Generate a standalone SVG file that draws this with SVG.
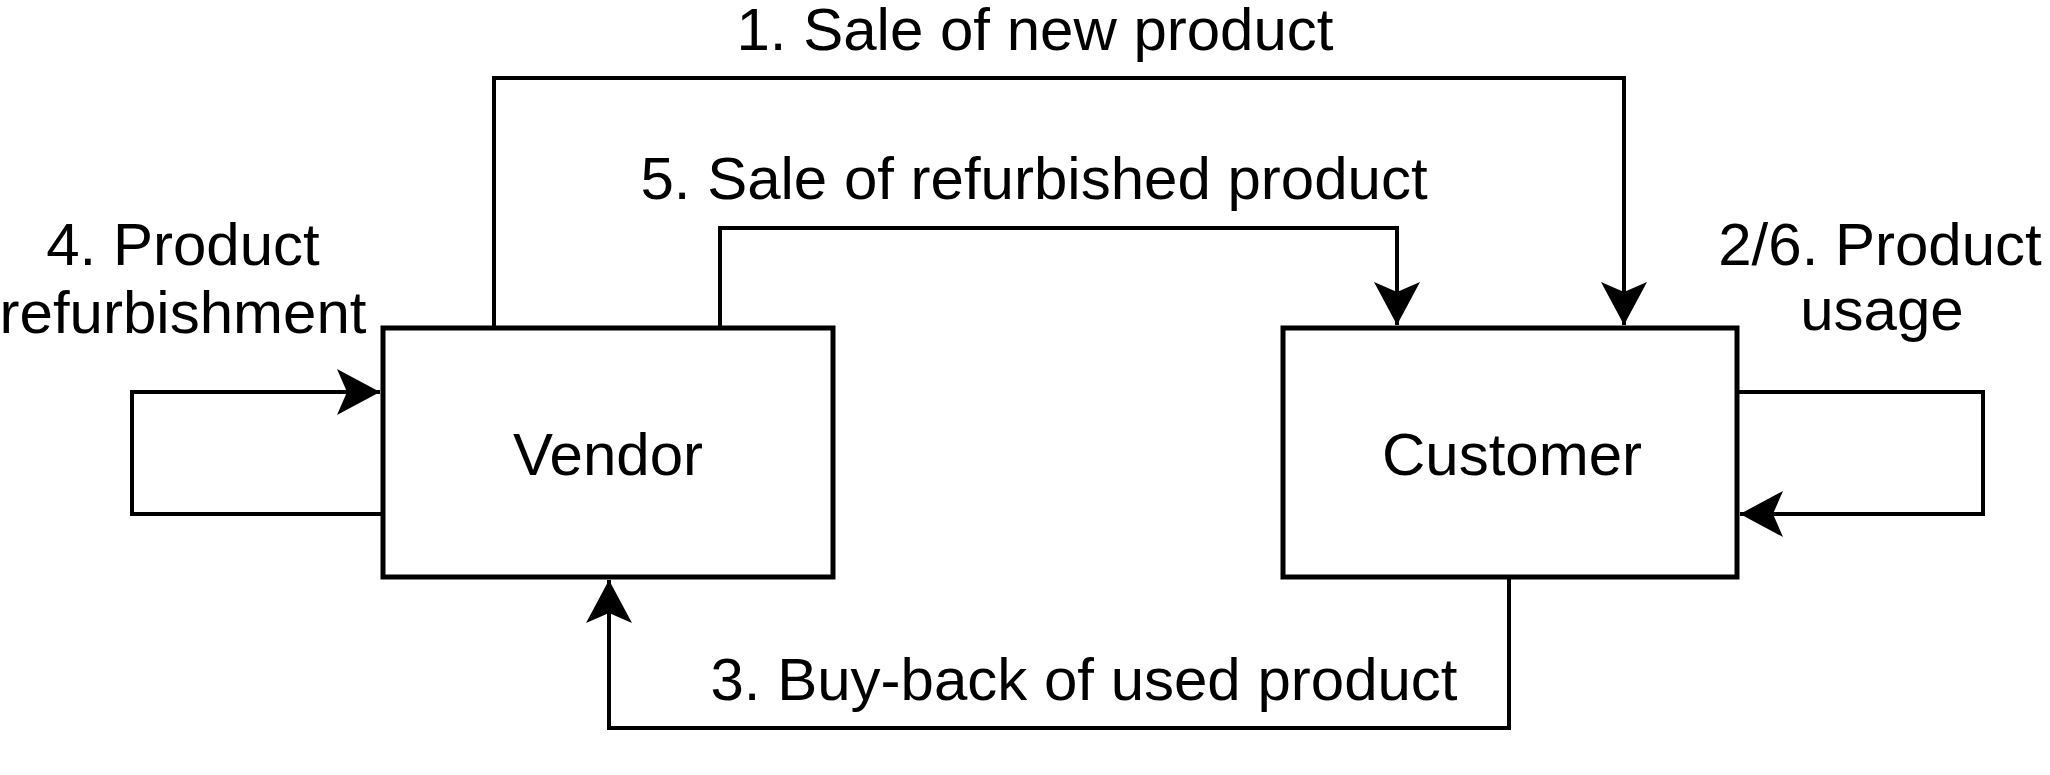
<svg xmlns="http://www.w3.org/2000/svg" width="2050" height="775" viewBox="0 0 2050 775">
<style>
.box{fill:#fff;stroke:#000;stroke-width:5}
.edge{fill:none;stroke:#000;stroke-width:4;stroke-linejoin:miter}
text{font-family:"Liberation Sans",Arial,Helvetica,sans-serif;font-size:60px;fill:#000;text-anchor:middle}
</style>
<defs>
<marker id="arr" markerUnits="userSpaceOnUse" viewBox="0 0 43 46" refX="43" refY="23" markerWidth="43" markerHeight="46" orient="auto">
<path d="M0,0 L43,23 L0,46 L10,23 Z" fill="#000"/>
</marker>
</defs>
<rect width="2050" height="775" fill="#fff"/>
<g id="connectors">
<path class="edge" d="M494,328 V78 H1624 V325" marker-end="url(#arr)"/>
<path class="edge" d="M720,328 V228 H1397 V325" marker-end="url(#arr)"/>
<path class="edge" d="M383,514 H132 V392 H380" marker-end="url(#arr)"/>
<path class="edge" d="M1737,392 H1983 V514 H1740" marker-end="url(#arr)"/>
<path class="edge" d="M1509,577 V728 H609 V580" marker-end="url(#arr)"/>
</g>
<g id="labels">
<text x="1035" y="50">1. Sale of new product</text>
<text x="1034" y="199">5. Sale of refurbished product</text>
<text x="183" y="265">4. Product</text>
<text x="183" y="333">refurbishment</text>
<text x="1880" y="265">2/6. Product</text>
<text x="1882" y="330">usage</text>
<text x="1084" y="700">3. Buy-back of used product</text>
</g>
<g id="vendor">
<rect class="box" x="383" y="328" width="450" height="249"/>
<text x="608" y="475">Vendor</text>
</g>
<g id="customer">
<rect class="box" x="1283" y="328" width="454" height="249"/>
<text x="1512" y="475">Customer</text>
</g>
</svg>
